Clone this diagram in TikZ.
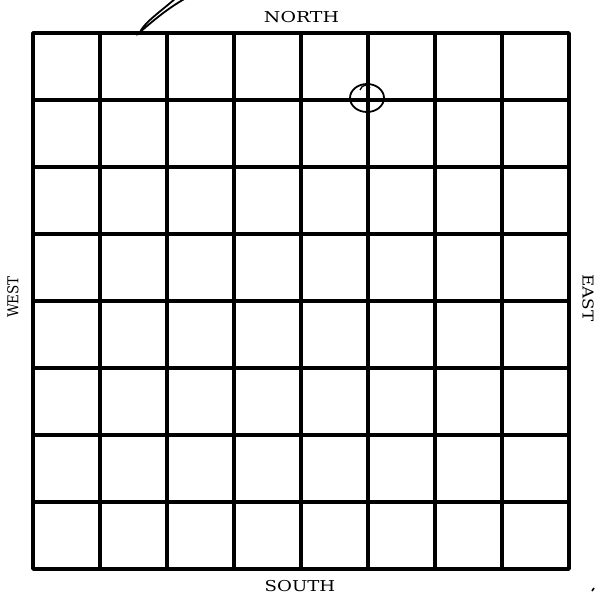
\documentclass[tikz,border=0pt]{standalone}
\usepackage{fontspec}
\setmainfont{DejaVu Serif}
\begin{document}
\begin{tikzpicture}[x=1pt,y=-1pt,
  gridline/.style={line width=3.1pt, line cap=round},
  borderline/.style={line width=3.8pt, line join=round},
  lbl/.style={font=\fontsize{15}{15}\selectfont, inner sep=0pt},
  pencil/.style={line width=1.8pt, line cap=round}]
\useasboundingbox (0,0) rectangle (601,602);
% grid lines
\foreach \i in {1,...,7} {
  \pgfmathsetmacro{\p}{33+67*\i}
  \draw[gridline] (\p,33) -- (\p,569);
  \draw[gridline] (33,\p) -- (569,\p);
}
\draw[borderline] (33,33) rectangle (569,569);
% labels
\node[lbl] (north) at (301.5,17) {\scalebox{1.26}[1]{NORTH}};
\node[lbl] (south) at (300,586) {\scalebox{1.21}[1]{SOUTH}};
\node[lbl, rotate=90] (west) at (13,297) {\scalebox{0.9}[1]{WEST}};
\node[lbl, rotate=-90] (east) at (588,298) {\scalebox{1.12}[1]{EAST}};
% hand marks
\draw[pencil] (176,-2) .. controls (160,12) and (145,22) .. (140,32) .. controls (152,22) and (165,10) .. (186,-2);
\draw[line width=1.8pt] (367,98) ellipse (17pt and 14pt);
\draw[line width=1.3pt] (360,90) .. controls (362,84) and (368,84) .. (370,88);
\draw[line width=1.6pt] (592,591) -- (594,588);
\end{tikzpicture}
\end{document}
